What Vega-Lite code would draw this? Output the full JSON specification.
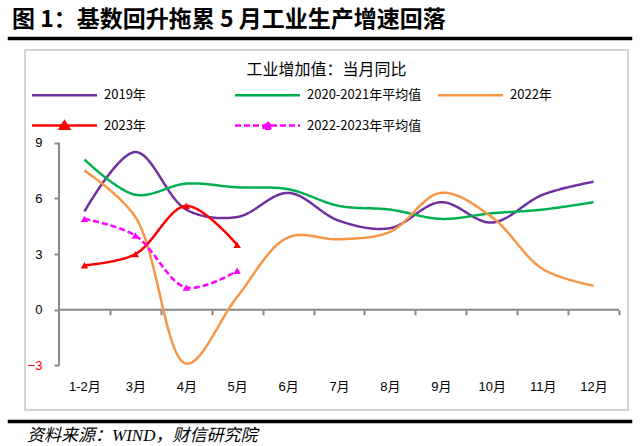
{
  "$schema": "https://vega.github.io/schema/vega-lite/v6.json",
  "padding": {"left": 7, "top": 7, "right": 0, "bottom": 0},
  "background": "white",
  "config": {"view": {"stroke": null}},
  "spacing": 8,
  "vconcat": [
    {
      "width": 622, "height": 1,
      "data": {"values": []},
      "mark": "text",
      "view": {"stroke": "#000000", "strokeWidth": 2.5, "fill": "#000000"},
      "title": {"text": "图 1：基数回升拖累 5 月工业生产增速回落", "anchor": "start", "fontSize": 23, "fontWeight": "bold", "font": "Noto Sans CJK SC", "color": "#000000", "offset": 6, "dx": 3}
    },
    {
      "spacing": 13,
      "hconcat": [
        {
          "width": 1, "height": 1,
          "data": {"values": []},
          "mark": "text",
          "view": {"stroke": "#ffffff", "strokeWidth": 0.5}
        },
        {
          "width": 603, "height": 360,
          "view": {"stroke": "#d4d4d4", "strokeWidth": 2},
          "title": {"text": "工业增加值：当月同比", "anchor": "middle", "frame": "group", "offset": -28, "fontSize": 16, "fontWeight": "normal", "font": "Noto Sans CJK SC", "color": "#000000"},
          "data": {"values": [
            {"series": "2019年", "m": 2, "value": 5.3},
            {"series": "2019年", "m": 3, "value": 8.5},
            {"series": "2019年", "m": 4, "value": 5.4},
            {"series": "2019年", "m": 5, "value": 5.0},
            {"series": "2019年", "m": 6, "value": 6.3},
            {"series": "2019年", "m": 7, "value": 4.8},
            {"series": "2019年", "m": 8, "value": 4.4},
            {"series": "2019年", "m": 9, "value": 5.8},
            {"series": "2019年", "m": 10, "value": 4.7},
            {"series": "2019年", "m": 11, "value": 6.2},
            {"series": "2019年", "m": 12, "value": 6.9},
            {"series": "2020-2021年平均值", "m": 2, "value": 8.1},
            {"series": "2020-2021年平均值", "m": 3, "value": 6.2},
            {"series": "2020-2021年平均值", "m": 4, "value": 6.8},
            {"series": "2020-2021年平均值", "m": 5, "value": 6.6},
            {"series": "2020-2021年平均值", "m": 6, "value": 6.5},
            {"series": "2020-2021年平均值", "m": 7, "value": 5.6},
            {"series": "2020-2021年平均值", "m": 8, "value": 5.4},
            {"series": "2020-2021年平均值", "m": 9, "value": 4.9},
            {"series": "2020-2021年平均值", "m": 10, "value": 5.2},
            {"series": "2020-2021年平均值", "m": 11, "value": 5.4},
            {"series": "2020-2021年平均值", "m": 12, "value": 5.8},
            {"series": "2022年", "m": 2, "value": 7.5},
            {"series": "2022年", "m": 3, "value": 5.0},
            {"series": "2022年", "m": 4, "value": -2.9},
            {"series": "2022年", "m": 5, "value": 0.7},
            {"series": "2022年", "m": 6, "value": 3.9},
            {"series": "2022年", "m": 7, "value": 3.8},
            {"series": "2022年", "m": 8, "value": 4.2},
            {"series": "2022年", "m": 9, "value": 6.3},
            {"series": "2022年", "m": 10, "value": 5.0},
            {"series": "2022年", "m": 11, "value": 2.2},
            {"series": "2022年", "m": 12, "value": 1.3},
            {"series": "2023年", "m": 2, "value": 2.4},
            {"series": "2023年", "m": 3, "value": 3.0},
            {"series": "2023年", "m": 4, "value": 5.6},
            {"series": "2023年", "m": 5, "value": 3.5},
            {"series": "2022-2023年平均值", "m": 2, "value": 4.9},
            {"series": "2022-2023年平均值", "m": 3, "value": 4.0},
            {"series": "2022-2023年平均值", "m": 4, "value": 1.2},
            {"series": "2022-2023年平均值", "m": 5, "value": 2.1}
          ]},
          "layer": [
            {
              "data": {"values": [{"line": "y axis"}]},
              "mark": {"type": "rule", "color": "#898989", "strokeWidth": 2},
              "encoding": {
                "x": {"datum": 1.5, "type": "quantitative"},
                "y": {"datum": -3, "type": "quantitative"},
                "y2": {"datum": 9}
              }
            },
            {
              "data": {"values": [{"line": "x axis"}]},
              "mark": {"type": "rule", "color": "#898989", "strokeWidth": 2},
              "encoding": {
                "x": {"datum": 1.5, "type": "quantitative"},
                "x2": {"datum": 12.5},
                "y": {"datum": 0, "type": "quantitative"}
              }
            },
            {
              "encoding": {
                "x": {
                  "field": "m", "type": "quantitative",
                  "scale": {"domain": [0.8321, 12.6768], "nice": false, "zero": false},
                  "axis": {
                    "title": null, "orient": "bottom", "offset": -100.2,
                    "values": [2, 3, 4, 5, 6, 7, 8, 9, 10, 11, 12],
                    "domain": false, "grid": false,
                    "tickSize": 5, "tickWidth": 2, "tickColor": "#898989",
                    "tickOffset": 25.45, "labelOffset": -25.45,
                    "labelExpr": "datum.value === 2 ? '1-2月' : datum.value + '月'",
                    "labelOverlap": false, "labelFlush": false, "labelPadding": 66,
                    "labelFontSize": 13, "labelFont": "Liberation Sans, Noto Sans CJK SC", "labelColor": "#000000"
                  }
                },
                "y": {
                  "field": "value", "type": "quantitative",
                  "scale": {"domain": [-5.4, 14.0], "nice": false, "zero": false},
                  "axis": {
                    "title": null, "offset": -34, "values": [-3, 0, 3, 6, 9],
                    "domain": false, "grid": false,
                    "tickSize": 5, "tickWidth": 2, "tickColor": "#898989",
                    "labelPadding": 12, "labelFontSize": 13, "labelFont": "Liberation Sans",
                    "labelColor": {"condition": {"test": "datum.value < 0", "value": "#ff0000"}, "value": "#000000"}
                  }
                }
              },
              "layer": [
                {
                  "mark": {"type": "line", "interpolate": "catmull-rom", "strokeWidth": 2.5},
                  "encoding": {
                    "color": {
                      "field": "series", "type": "nominal",
                      "scale": {
                        "domain": ["2019年", "2020-2021年平均值", "2022年", "2023年", "2022-2023年平均值"],
                        "range": ["#7030a0", "#00b050", "#f79646", "#ff0000", "#ff00ff"]
                      },
                      "legend": {
                        "title": null, "orient": "none", "legendX": 41, "legendY": 42,
                        "direction": "horizontal",
                        "columns": 3, "gridAlign": "all", "columnPadding": 11, "rowPadding": 8,
                        "padding": 0, "symbolSize": 676, "symbolStrokeWidth": 2.5,
                        "labelOffset": 25, "labelFontSize": 13, "labelFont": "Liberation Sans Narrow, Noto Sans CJK SC",
                        "labelColor": "#000000", "labelLimit": 300,
                        "encode": {
                          "symbols": {
                            "update": {
                              "shape": {"signal": "(datum.value === '2023年' || datum.value === '2022-2023年平均值') ? 'M-2.5,0H2.5M-0.35,0.25L0,-0.3L0.35,0.25Z' : 'M-2.5,0H2.5'"},
                              "fill": {"signal": "scale('color', datum.value)"},
                              "stroke": {"signal": "scale('color', datum.value)"},
                              "strokeDash": {"signal": "datum.value === '2022-2023年平均值' ? [5, 3] : [1, 0]"},
                              "opacity": {"value": 1}
                            }
                          }
                        }
                      }
                    },
                    "strokeDash": {
                      "field": "series", "type": "nominal",
                      "scale": {
                        "domain": ["2019年", "2020-2021年平均值", "2022年", "2023年", "2022-2023年平均值"],
                        "range": [[1, 0], [1, 0], [1, 0], [1, 0], [6, 3]]
                      },
                      "legend": null
                    }
                  }
                },
                {
                  "transform": [{"filter": {"field": "series", "oneOf": ["2023年", "2022-2023年平均值"]}}],
                  "mark": {"type": "point", "shape": "triangle-up", "filled": true, "size": 55, "opacity": 1},
                  "encoding": {
                    "color": {
                      "field": "series", "type": "nominal",
                      "scale": {
                        "domain": ["2019年", "2020-2021年平均值", "2022年", "2023年", "2022-2023年平均值"],
                        "range": ["#7030a0", "#00b050", "#f79646", "#ff0000", "#ff00ff"]
                      },
                      "legend": null
                    }
                  }
                }
              ]
            }
          ]
        }
      ]
    },
    {
      "width": 622, "height": 1,
      "data": {"values": []},
      "mark": "text",
      "view": {"stroke": "#000000", "strokeWidth": 2.5, "fill": "#000000"},
      "title": {"text": "资料来源：WIND，财信研究院", "orient": "bottom", "anchor": "start", "fontSize": 17, "fontStyle": "italic", "fontWeight": "normal", "font": "Liberation Serif, Noto Sans CJK SC", "color": "#000000", "offset": 6, "dx": 18}
    }
  ]
}
